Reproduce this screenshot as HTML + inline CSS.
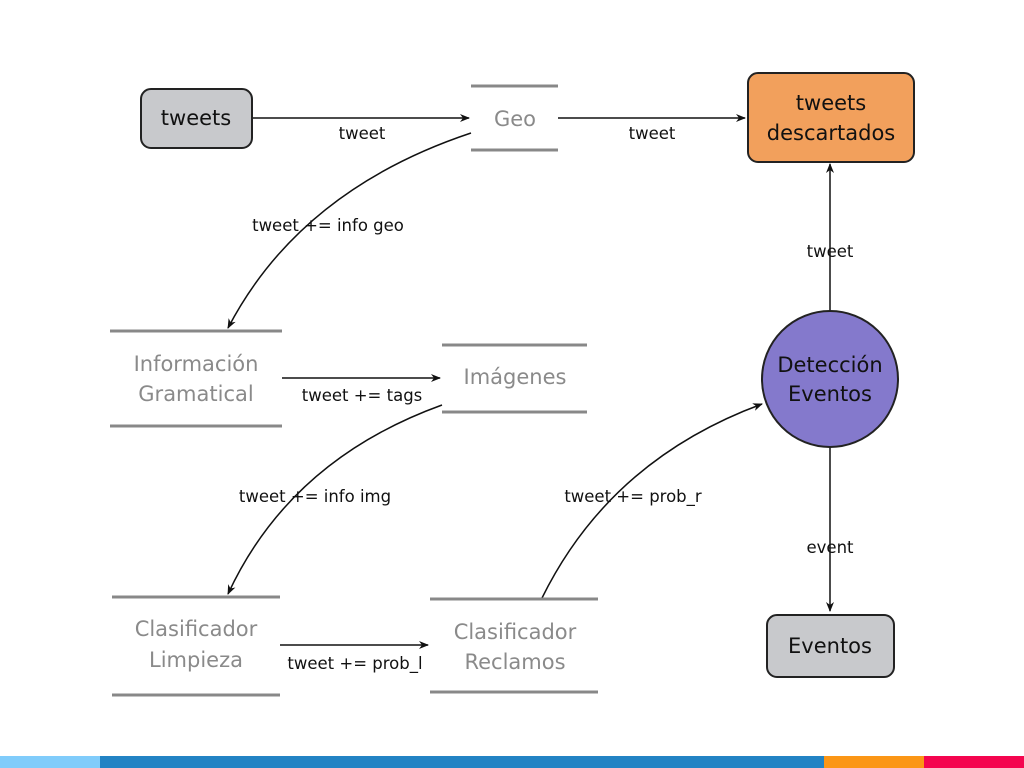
<!DOCTYPE html>
<html><head><style>
html,body{margin:0;padding:0;background:#fff;}
svg{display:block;font-family:"DejaVu Sans","Liberation Sans",sans-serif;}
</style></head><body>
<svg width="1024" height="768" viewBox="0 0 1024 768" xmlns="http://www.w3.org/2000/svg">
<defs>
<marker id="a" markerWidth="10" markerHeight="8" refX="9" refY="4" orient="auto" markerUnits="userSpaceOnUse">
<path d="M0,0 L10,4 L0,8 L3,4 Z" fill="#111"/>
</marker>
</defs>
<rect width="1024" height="768" fill="#fff"/>
<g stroke="#111" stroke-width="1.5" fill="none" marker-end="url(#a)">
<line x1="252" y1="118" x2="469" y2="118"/>
<line x1="558" y1="118" x2="745" y2="118"/>
<path d="M471,133 Q300,190 228,328"/>
<line x1="282" y1="378" x2="440" y2="378"/>
<path d="M442,405 Q290,460 228,594"/>
<line x1="280" y1="645" x2="428" y2="645"/>
<path d="M542,598 Q610,460 762,404"/>
<line x1="830" y1="311" x2="830" y2="164"/>
<line x1="830" y1="447" x2="830" y2="611"/>
</g>
<g stroke="#888" stroke-width="3">
<line x1="471" y1="86" x2="558" y2="86"/><line x1="471" y1="150" x2="558" y2="150"/>
<line x1="110" y1="331" x2="282" y2="331"/><line x1="110" y1="426" x2="282" y2="426"/>
<line x1="442" y1="345" x2="587" y2="345"/><line x1="442" y1="412" x2="587" y2="412"/>
<line x1="112" y1="597" x2="280" y2="597"/><line x1="112" y1="695" x2="280" y2="695"/>
<line x1="430" y1="599" x2="598" y2="599"/><line x1="430" y1="692" x2="598" y2="692"/>
</g>
<rect x="141" y="89" width="111" height="59" rx="10" fill="#c8c9cc" stroke="#222" stroke-width="2"/>
<rect x="748" y="73" width="166" height="89" rx="10" fill="#f2a05c" stroke="#222" stroke-width="2"/>
<rect x="767" y="615" width="127" height="62" rx="10" fill="#c8c9cc" stroke="#222" stroke-width="2"/>
<circle cx="830" cy="379" r="68" fill="#8479cc" stroke="#222" stroke-width="2"/>
<g font-size="21" text-anchor="middle" fill="#111">
<text x="196" y="125">tweets</text>
<text x="831" y="110">tweets</text>
<text x="831" y="140">descartados</text>
<text x="830" y="372">Detección</text>
<text x="830" y="401">Eventos</text>
<text x="830" y="653">Eventos</text>
</g>
<g font-size="21" text-anchor="middle" fill="#8a8a8a">
<text x="515" y="126">Geo</text>
<text x="196" y="371">Información</text>
<text x="196" y="401">Gramatical</text>
<text x="515" y="384">Imágenes</text>
<text x="196" y="636">Clasificador</text>
<text x="196" y="667">Limpieza</text>
<text x="515" y="639">Clasificador</text>
<text x="515" y="669">Reclamos</text>
</g>
<g font-size="16.5" text-anchor="middle" fill="#111">
<text x="362" y="139">tweet</text>
<text x="652" y="139">tweet</text>
<text x="328" y="231">tweet += info geo</text>
<text x="362" y="401">tweet += tags</text>
<text x="315" y="502">tweet += info img</text>
<text x="355" y="669">tweet += prob_l</text>
<text x="633" y="502">tweet += prob_r</text>
<text x="830" y="257">tweet</text>
<text x="830" y="553">event</text>
</g>
<rect x="0" y="756" width="100" height="12" fill="#80ccfb"/>
<rect x="100" y="756" width="724" height="12" fill="#2283c4"/>
<rect x="824" y="756" width="100" height="12" fill="#fb9616"/>
<rect x="924" y="756" width="100" height="12" fill="#f4054f"/>
</svg>
</body></html>
